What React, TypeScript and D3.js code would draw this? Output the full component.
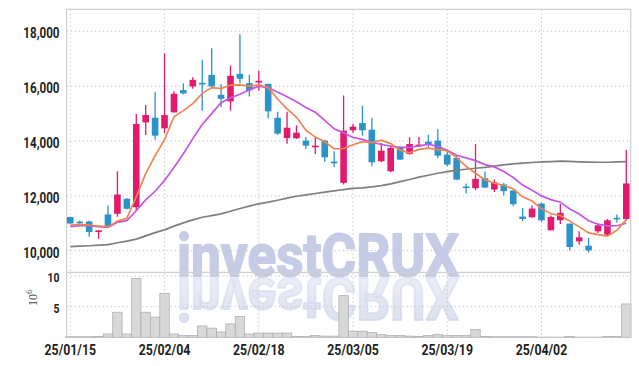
import React from 'react';
import * as d3 from 'd3';

const dates = [
  '25/01/15','25/01/16','25/01/17','25/01/20','25/01/21','25/01/22','25/01/23','25/01/24','25/01/31',
  '25/02/03','25/02/04','25/02/05','25/02/06','25/02/07','25/02/10','25/02/11','25/02/12','25/02/13','25/02/14',
  '25/02/17','25/02/18','25/02/19','25/02/20','25/02/21','25/02/24','25/02/25','25/02/26','25/02/27','25/02/28',
  '25/03/04','25/03/05','25/03/06','25/03/07','25/03/10','25/03/11','25/03/12','25/03/13','25/03/14','25/03/17',
  '25/03/18','25/03/19','25/03/20','25/03/21','25/03/24','25/03/25','25/03/26','25/03/27','25/03/28','25/03/31',
  '25/04/01','25/04/02','25/04/03','25/04/04','25/04/07','25/04/08','25/04/09','25/04/10','25/04/11','25/04/14','25/04/15',
];

const opens = [
  11230, 11060, 11067, 10679, 11322, 11346, 11892, 11588, 14679, 14849,
  14461, 15043, 15855, 15988, 16121, 16412, 15685, 15443, 16449, 16109,
  16133, 16085, 14849, 14109, 14097, 14012, 13770, 14012, 13249, 12473,
  14388, 14654, 14412, 13261, 12897, 13770, 13527, 13806, 13976, 14012,
  13503, 13382, 12340, 12279, 12643, 12230, 12415, 12195, 11244, 11219,
  11719, 10744, 11109, 10987, 10341, 10182, 10707, 10585, 11200, 11158,
];
const highs = [
  11240, 11100, 11090, 10740, 11649, 12897, 11910, 14994, 15309, 15782,
  17200, 15818, 16109, 16327, 16958, 17382, 16073, 16752, 17891, 16412,
  16558, 16085, 15067, 15067, 14570, 14146, 14146, 14049, 13624, 15661,
  14630, 15285, 14836, 13927, 13806, 13806, 14133, 14146, 14230, 14436,
  13685, 13442, 12449, 13891, 12885, 12600, 12476, 12195, 11561, 11646,
  11744, 11280, 11707, 10987, 10707, 10463, 10975, 11158, 11317, 13671,
];
const lows = [
  10990, 10880, 10510, 10437, 10837, 11237, 11500, 11443, 14218, 14049,
  14291, 15043, 15697, 15903, 15103, 15988, 15236, 15103, 16109, 15624,
  15843, 14824, 14230, 13903, 14073, 13709, 13527, 13236, 13055, 12412,
  14291, 14194, 13079, 13224, 12861, 13300, 13500, 13780, 13745, 13382,
  13079, 12570, 12085, 12206, 12280, 12140, 12012, 11622, 11073, 11200,
  11048, 10744, 10975, 10011, 10219, 9938, 10646, 10560, 11024, 11109,
];
const closes = [
  10990, 11030, 10679, 10740, 10897, 12049, 11528, 14618, 14946, 14194,
  14946, 15721, 15734, 16230, 16061, 15988, 15540, 16376, 16267, 15843,
  16194, 15079, 14267, 14485, 14303, 13830, 13830, 13406, 13188, 14376,
  14521, 14388, 13224, 13648, 13745, 13321, 13891, 13867, 13891, 13467,
  13139, 12594, 12300, 12618, 12303, 12490, 12171, 11695, 11158, 11537,
  11109, 11231, 11378, 10133, 10487, 10011, 10926, 11109, 11170, 12451,
];
// volume, millions of shares
const volumes = [
  0.1, 0.1, 0.1, 0.15, 0.55, 4.1, 0.55, 9.6, 4.1, 3.3,
  7.2, 0.55, 0.3, 0.3, 1.85, 1.5, 0.87, 2.2, 3.4, 0.55,
  0.7, 0.7, 0.7, 0.7, 0.15, 0.15, 0.3, 0.2, 0.2, 6.8,
  1.0, 1.0, 0.8, 0.45, 0.3, 0.3, 0.2, 0.15, 0.3, 0.5,
  0.3, 0.3, 0.3, 1.3, 0.15, 0.1, 0.1, 0.1, 0.1, 0.1,
  0.03, 0.03, 0.03, 0.15, 0.03, 0.03, 0.03, 0.12, 0.12, 5.45,
];
// first values of the moving averages (they depend on earlier sessions)
const ma5Head = [10937, 10962, 10937, 10900];
const ma10Head = [10875, 10912, 10912, 10875, 10851, 11035, 11094, 11455, 11850];
const ma60 = [
  10150, 10165, 10180, 10200, 10220, 10290, 10350, 10420, 10540, 10660,
  10760, 10895, 11015, 11125, 11220, 11280, 11345, 11440, 11540, 11625,
  11710, 11770, 11840, 11915, 11985, 12035, 12085, 12135, 12180, 12230,
  12270, 12290, 12325, 12375, 12435, 12520, 12595, 12680, 12750, 12825,
  12885, 12935, 12970, 13005, 13040, 13085, 13130, 13165, 13190, 13215,
  13240, 13250, 13265, 13255, 13240, 13230, 13225, 13225, 13235, 13250,
];
const priceTicks = [10000, 12000, 14000, 16000, 18000];
const volumeTicks = [5, 10];
const dateTicks = ['25/01/15', '25/02/04', '25/02/18', '25/03/05', '25/03/19', '25/04/02'];

function movingAverage(head: number[], n: number): number[] {
  return closes.map((_, i) =>
    i < head.length ? head[i] : (d3.mean(closes.slice(i - n + 1, i + 1)) as number)
  );
}

const W = 639;
const H = 366;
const L = 66.7;
const R = 630.7;
const T = 9.3;
const MID = 272.3;
const VB = 337.3;

const UP = '#e3196d';
const DOWN = '#2b93c8';
const GRID = '#c5c9d8';
const FONT = 'Roboto, "Noto Sans", sans-serif';

export default function App() {
  const x = d3.scaleBand<string>().domain(dates).range([65.6, 631]).padding(0);
  const step = x.step();
  const cx = (d: string) => (x(d) as number) + step / 2;
  const y = d3.scaleLinear().domain([9212, 18802]).range([MID, T]);
  const yv = d3.scaleLinear().domain([0, 10.6]).range([VB, MID + 0.1]);

  const ma5 = movingAverage(ma5Head, 5);
  const ma10 = movingAverage(ma10Head, 10);

  const line = d3
    .line<number>()
    .x((_, i) => cx(dates[i]))
    .y((v) => y(v));

  const bodyW = 6.6;

  return (
    <svg
      width={W}
      height={H}
      viewBox={`0 0 ${W} ${H}`}
      style={{ position: 'absolute', left: 0, top: 0, background: '#fff' }}
    >
      <defs>
        <clipPath id="pclip">
          <rect x={L} y={T} width={R - L} height={MID - T} />
        </clipPath>
        <linearGradient id="refl" x1="0" y1="0" x2="0" y2="1">
          <stop offset="0" stopColor="#cfd4ea" stopOpacity={0.8} />
          <stop offset="1" stopColor="#cfd4ea" stopOpacity={0.3} />
        </linearGradient>
      </defs>

      {/* watermark */}
      <text
        x={177}
        y={276}
        fontFamily={FONT}
        fontWeight="bold"
        fontSize={60}
        fill="#c6cce6"
        stroke="#c6cce6"
        strokeWidth={1.8}
        strokeLinejoin="round"
        textLength={282}
        lengthAdjust="spacingAndGlyphs"
      >
        investCRUX
      </text>
      <g transform="translate(0,554) scale(1,-1)">
        <text
          x={177}
          y={276}
          fontFamily={FONT}
          fontWeight="bold"
          fontSize={60}
          fill="url(#refl)"
          stroke="url(#refl)"
          strokeWidth={1.8}
          strokeLinejoin="round"
          textLength={282}
          lengthAdjust="spacingAndGlyphs"
        >
          investCRUX
        </text>
      </g>

      {/* grid */}
      {priceTicks.map((t) => (
        <line key={'pg' + t} x1={L} x2={R} y1={y(t)} y2={y(t)} stroke={GRID} strokeDasharray="1.5,2.5" />
      ))}
      {volumeTicks.map((t) => (
        <line key={'vg' + t} x1={L} x2={R} y1={yv(t)} y2={yv(t)} stroke={GRID} strokeDasharray="1.5,2.5" />
      ))}
      {dateTicks.map((d) => (
        <line key={'xg' + d} x1={cx(d)} x2={cx(d)} y1={T} y2={VB} stroke={GRID} strokeDasharray="1.5,2.5" />
      ))}

      {/* volume bars */}
      {dates.map((d, i) => (
        <rect
          key={'v' + d}
          x={x(d)}
          y={yv(volumes[i])}
          width={step}
          height={VB - yv(volumes[i])}
          fill="#d8d8d8"
          stroke="#ababab"
          strokeWidth={0.7}
        />
      ))}

      {/* frame */}
      <line x1={L} x2={R} y1={T} y2={T} stroke="#cfcfcf" strokeWidth={1.2} />
      <line x1={L} x2={R} y1={MID} y2={MID} stroke="#cfcfcf" strokeWidth={1.2} />
      <line x1={L} x2={L} y1={T} y2={VB} stroke="#cfcfcf" strokeWidth={1.2} />
      <line x1={R} x2={R} y1={T} y2={VB} stroke="#cfcfcf" strokeWidth={1.2} />

      {/* candles */}
      <g clipPath="url(#pclip)">
        {dates.map((d, i) => {
          const up = closes[i] >= opens[i];
          const c = up ? UP : DOWN;
          const top = y(Math.max(opens[i], closes[i]));
          const bot = y(Math.min(opens[i], closes[i]));
          return (
            <g key={'c' + d}>
              <line x1={cx(d)} x2={cx(d)} y1={y(highs[i])} y2={y(lows[i])} stroke={c} strokeWidth={1.3} />
              <rect
                x={cx(d) - bodyW / 2}
                y={top}
                width={bodyW}
                height={Math.max(bot - top, 1.6)}
                fill={c}
              />
            </g>
          );
        })}
        <path d={line(ma60) || ''} fill="none" stroke="#7f7f7f" strokeWidth={1.7} />
        <path d={line(ma10) || ''} fill="none" stroke="#c455e6" strokeWidth={1.7} />
        <path d={line(ma5) || ''} fill="none" stroke="#ef8450" strokeWidth={1.7} />
      </g>

      {/* axis labels */}
      {priceTicks.map((t) => (
        <text
          key={'pl' + t}
          transform={`translate(59.5,${y(t) + 7}) scale(0.83,1)`}
          textAnchor="end"
          fontFamily={FONT}
          fontWeight="bold"
          fontSize={14}
          fill="#222"
        >
          {d3.format(',')(t)}
        </text>
      ))}
      {volumeTicks.map((t) => (
        <text
          key={'vl' + t}
          transform={`translate(59.5,${yv(t) + 6}) scale(0.8,1)`}
          textAnchor="end"
          fontFamily={FONT}
          fontWeight="bold"
          fontSize={13}
          fill="#222"
        >
          {t}
        </text>
      ))}
      <text
        transform="translate(37,306) rotate(-90)"
        fontFamily='"Liberation Serif", "DejaVu Serif", serif'
        fontSize={12}
        fill="#444"
      >
        10
        <tspan dy={-5} fontSize={9}>
          6
        </tspan>
      </text>
      {dateTicks.map((d) => (
        <text
          key={'dl' + d}
          transform={`translate(${cx(d)},354.5) scale(0.88,1)`}
          textAnchor="middle"
          fontFamily={FONT}
          fontWeight="bold"
          fontSize={14}
          fill="#222"
        >
          {d}
        </text>
      ))}
    </svg>
  );
}
